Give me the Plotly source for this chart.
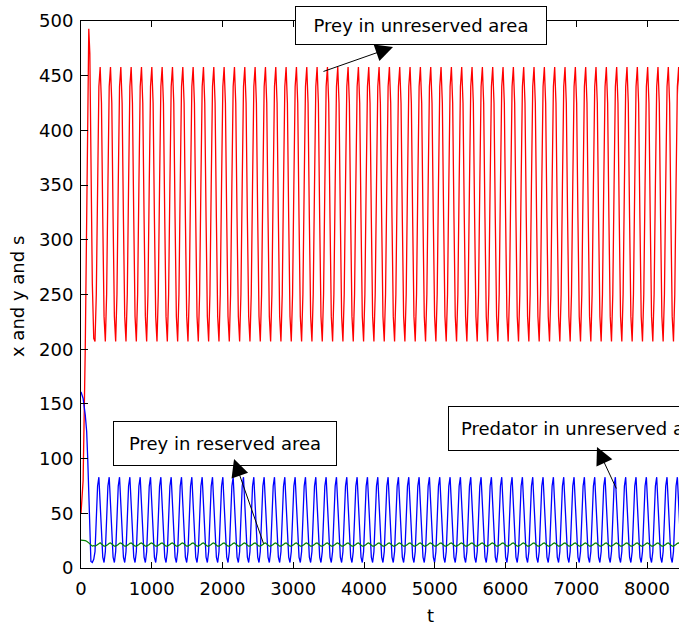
import plotly.graph_objects as go

# ---------------- data ----------------
# initial transient
t_init = [0, 30, 60, 80, 95, 110, 125, 140, 160, 180]
prey_unres_init = [50, 80, 200, 330, 450, 493, 470, 380, 260, 210]
pred_unres_init = [161, 155, 140, 125, 100, 60, 20, 6, 5, 8]
prey_res_init = [25.5, 25.5, 25.0, 24.5, 24.0, 23.0, 22.0, 21.0, 20.0, 20.5]

# one steady oscillation cycle (8 samples, period ~146)
cycle_start = 198
cycle_period = 146
prey_unres_cycle = [207, 250, 350, 440, 458, 425, 320, 230]
pred_unres_cycle = [15, 45, 75, 83, 60, 30, 10, 5]
prey_res_cycle = [20.0, 20.5, 21.5, 22.5, 23.0, 22.0, 21.0, 20.0]
n_cycles = 58

x_ticks = [0, 1000, 2000, 3000, 4000, 5000, 6000, 7000, 8000]
y_ticks = [0, 50, 100, 150, 200, 250, 300, 350, 400, 450, 500]

# ---------------- build series ----------------
n = len(prey_unres_cycle)
dt = cycle_period / n
t = list(t_init)
x_s = list(prey_unres_init)
y_s = list(pred_unres_init)
s_s = list(prey_res_init)
for k in range(n_cycles):
    for i in range(n):
        t.append(cycle_start + (k * n + i) * dt)
        x_s.append(prey_unres_cycle[i])
        y_s.append(pred_unres_cycle[i])
        s_s.append(prey_res_cycle[i])

FONT = "DejaVu Sans"

fig = go.Figure()
fig.add_trace(go.Scatter(x=t, y=x_s, mode="lines", line=dict(color="#FF0000", width=1.3), showlegend=False))
fig.add_trace(go.Scatter(x=t, y=y_s, mode="lines", line=dict(color="#0000FF", width=1.3), showlegend=False))
fig.add_trace(go.Scatter(x=t, y=s_s, mode="lines", line=dict(color="#008000", width=1.2), showlegend=False))

# text boxes
boxes = [
    ("Prey in unreserved area", 4806, 495.9, 252, 39),
    ("Prey in reserved area", 2035, 113.8, 224, 45),
    ("Predator in unreserved area", 7152, 127.5, 278, 45),
]
for txt, bx, by, bw, bh in boxes:
    fig.add_annotation(x=bx, y=by, xref="x", yref="y", text=txt, showarrow=False,
                       xanchor="center", yanchor="middle", width=bw - 2, height=bh - 2,
                       bgcolor="white", bordercolor="black", borderwidth=1, borderpad=0,
                       font=dict(family=FONT, size=18, color="black"))

# arrows (head, tail)
arrows = [
    (4410, 476.2, 3406, 453.4),
    (2163, 99.6, 2587, 21.0),
    (7293, 110.6, 7576, 71.3),
]
for hx, hy, tx, ty in arrows:
    fig.add_annotation(x=hx, y=hy, ax=tx, ay=ty, xref="x", yref="y", axref="x", ayref="y",
                       text="", showarrow=True, arrowhead=2, arrowsize=3.5, arrowwidth=1,
                       arrowcolor="black", standoff=0, startstandoff=0)

# axis titles
fig.add_annotation(x=(430 - 81) / 598, y=(568 - 615) / 547, xref="paper", yref="paper",
                   text="t", showarrow=False, xanchor="center", yanchor="middle",
                   font=dict(family=FONT, size=18, color="black"))
fig.add_annotation(x=(17 - 81) / 598, y=(568 - 297) / 547, xref="paper", yref="paper",
                   text="x and y and s", textangle=-90, showarrow=False,
                   xanchor="center", yanchor="middle",
                   font=dict(family=FONT, size=18, color="black"))

fig.update_layout(
    width=679, height=625, autosize=False,
    margin=dict(l=81, r=0, t=21, b=57),
    paper_bgcolor="white", plot_bgcolor="white",
    font=dict(family=FONT, size=18, color="black"),
    xaxis=dict(range=[0, 8452], tickvals=x_ticks, ticktext=[str(v) for v in x_ticks],
               ticks="inside", ticklen=6, tickcolor="black", showline=True, linecolor="black",
               linewidth=1, mirror="ticks", showgrid=False, zeroline=False,
               ticklabelstandoff=4,
               tickfont=dict(family=FONT, size=18, color="black")),
    yaxis=dict(range=[0, 500], tickvals=y_ticks, ticktext=[str(v) for v in y_ticks],
               ticks="inside", ticklen=7, tickcolor="black", showline=True, linecolor="black",
               linewidth=1, showgrid=False, zeroline=False,
               ticklabelstandoff=3,
               tickfont=dict(family=FONT, size=18, color="black")),
)

fig.write_html("out.html")
